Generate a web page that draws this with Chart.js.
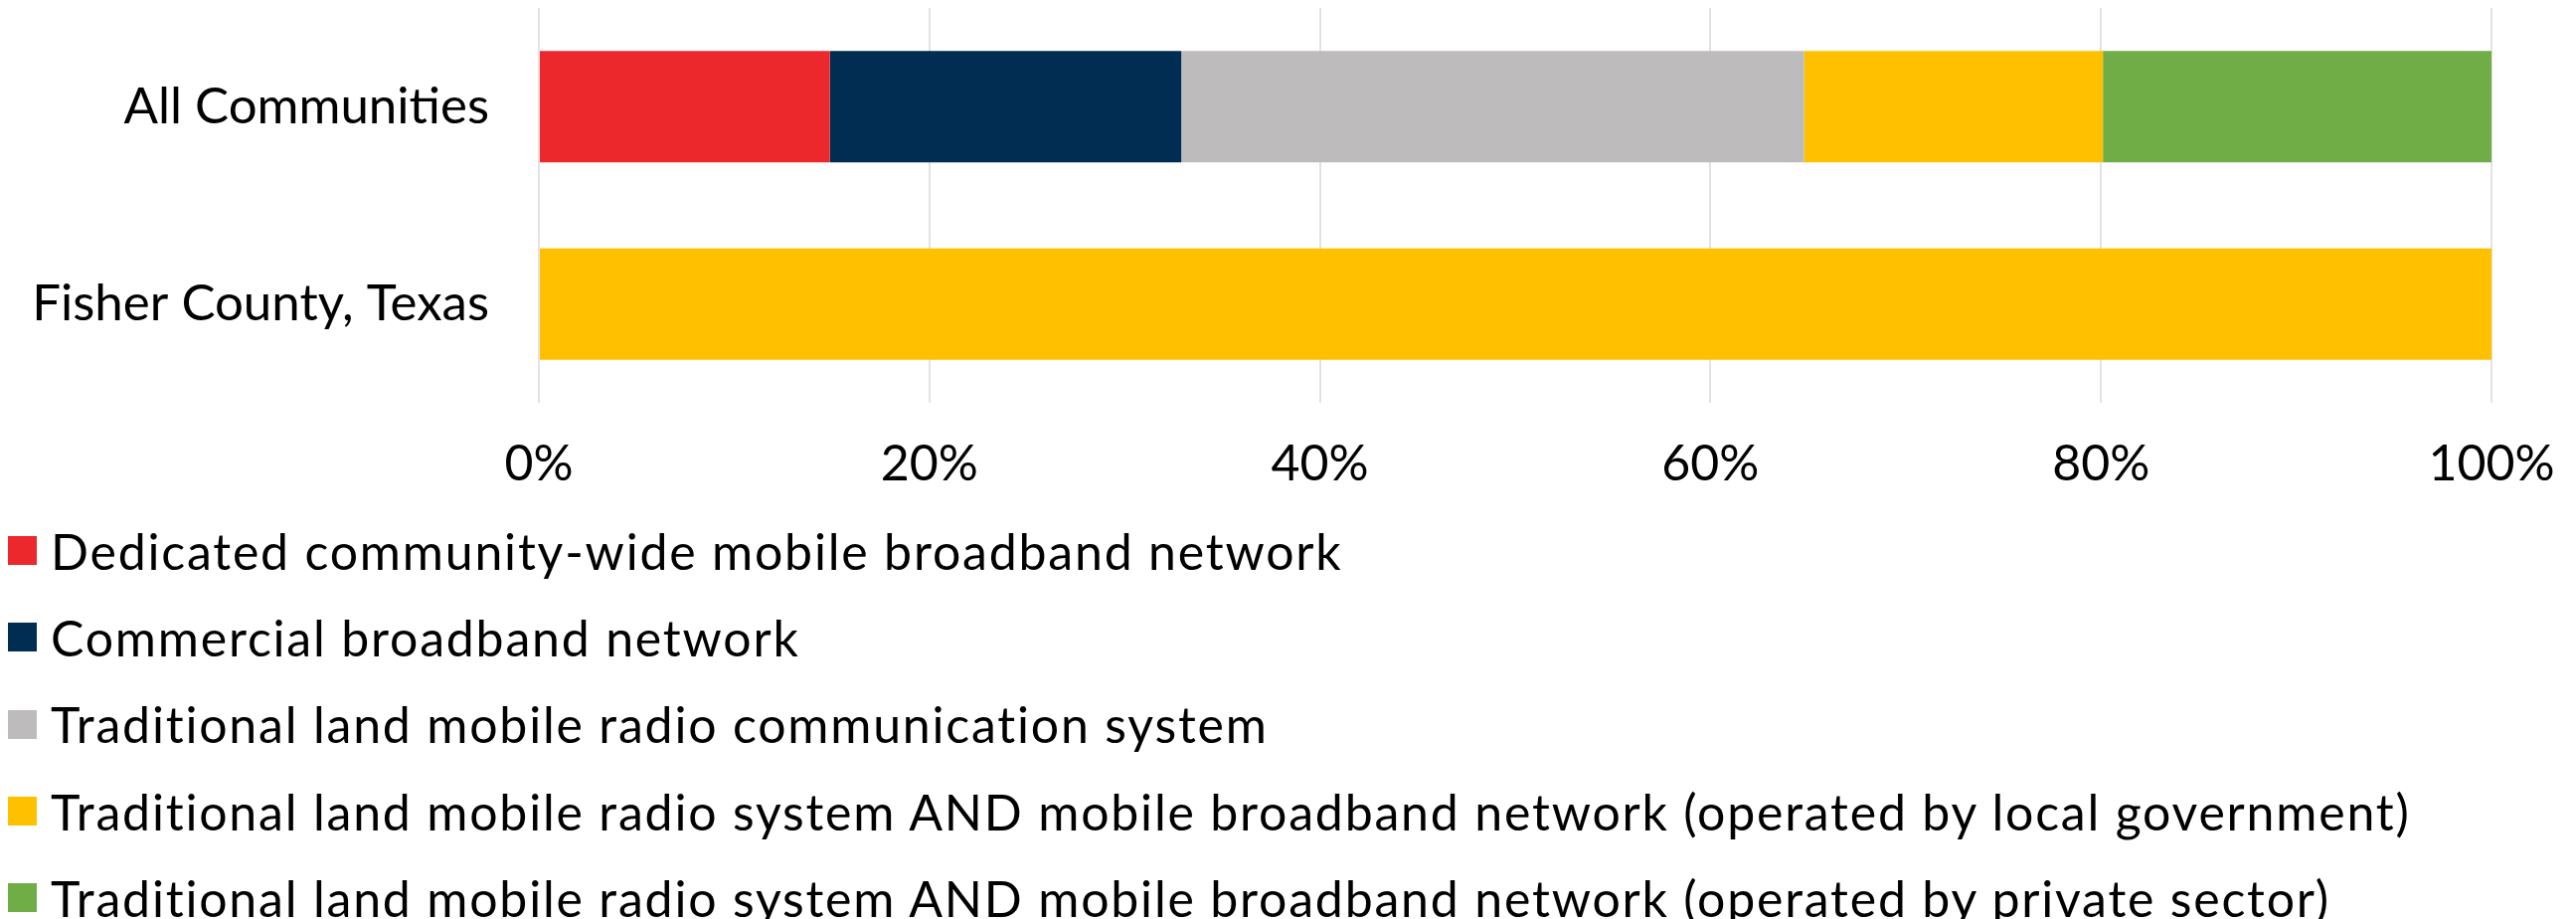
<!DOCTYPE html>
<html>
<head>
<meta charset="utf-8">
<script src="https://cdn.jsdelivr.net/npm/chart.js@4/dist/chart.umd.min.js"></script>
<style>
  html, body { margin: 0; padding: 0; background: #fff; }
  body { width: 2591px; height: 924px; overflow: hidden; font-family: Lato, "Open Sans", sans-serif; }
  #chartWrap { position: relative; width: 2591px; height: 530px; }
  #legend { position: absolute; left: 8px; top: 510px; margin: 0; padding: 0; list-style: none; }
  #legend li { display: flex; align-items: center; height: 87.3px; font-size: 50px; letter-spacing: 1.8px; color: #000; white-space: nowrap; }
  #legend .box { width: 29px; height: 29px; margin-right: 14px; flex: none; }
</style>
</head>
<body>
<div id="chartWrap"><canvas id="chart"></canvas></div>
<ul id="legend"></ul>
<script>
// ── Data ─────────────────────────────────────────────────────
const categories = ["All Communities", "Fisher County, Texas"];

const seriesNames = [
  "Dedicated community-wide mobile broadband network",
  "Commercial broadband network",
  "Traditional land mobile radio communication system",
  "Traditional land mobile radio system AND mobile broadband network (operated by local government)",
  "Traditional land mobile radio system AND mobile broadband network (operated by private sector)",
];

const dedicatedNetwork   = [14.9, 0];
const commercialNetwork  = [18.0, 0];
const traditionalRadio   = [31.9, 0];
const radioAndLocalGov   = [15.3, 100];
const radioAndPrivate    = [19.9, 0];

const xTicks = [0, 20, 40, 60, 80, 100];

const seriesColors = ["#ED282D", "#002D51", "#BDBBBC", "#FFC000", "#70AD47"];

// ── Chart ────────────────────────────────────────────────────
const seriesValues = [dedicatedNetwork, commercialNetwork, traditionalRadio, radioAndLocalGov, radioAndPrivate];
const FONT = { family: "Lato, 'Open Sans', sans-serif", size: 50 };

const chart = new Chart(document.getElementById("chart").getContext("2d"), {
  type: "bar",
  data: {
    labels: categories,
    datasets: seriesNames.map((name, i) => ({
      label: name,
      data: seriesValues[i],
      backgroundColor: seriesColors[i],
      borderWidth: 0,
      categoryPercentage: 1,
      barPercentage: 0.565,
    })),
  },
  options: {
    indexAxis: "y",
    responsive: true,
    maintainAspectRatio: false,
    animation: false,
    layout: { padding: { top: 8, right: 85, left: 0, bottom: 1 } },
    plugins: {
      legend: { display: false },
      tooltip: { enabled: false },
    },
    scales: {
      x: {
        stacked: true,
        min: 0,
        max: 100,
        afterBuildTicks: (scale) => { scale.ticks = xTicks.map(v => ({ value: v })); },
        afterFit: (scale) => { scale.paddingLeft = 0; scale.paddingRight = 0; },
        grid: { color: "#E3E3E3", lineWidth: 2, drawTicks: false },
        border: { display: false },
        ticks: {
          color: "#000",
          font: FONT,
          padding: 32,
          callback: (v) => `${v}%`,
        },
      },
      y: {
        stacked: true,
        grid: { display: false, drawTicks: false },
        border: { display: false },
        afterFit: (scale) => {
          scale.width = 542;
          scale.paddingTop = 0;
          scale.paddingBottom = 0;
        },
        ticks: {
          color: "#000",
          font: { ...FONT, size: 51 },
          padding: 50,
        },
      },
    },
  },
});

// ── HTML legend (one item per row) ───────────────────────────
const legendEl = document.getElementById("legend");
chart.options.plugins.legend.labels.generateLabels(chart).forEach(item => {
  const li = document.createElement("li");
  li.innerHTML = `<span class="box" style="background:${item.fillStyle}"></span><span>${item.text}</span>`;
  legendEl.appendChild(li);
});
</script>
</body>
</html>
